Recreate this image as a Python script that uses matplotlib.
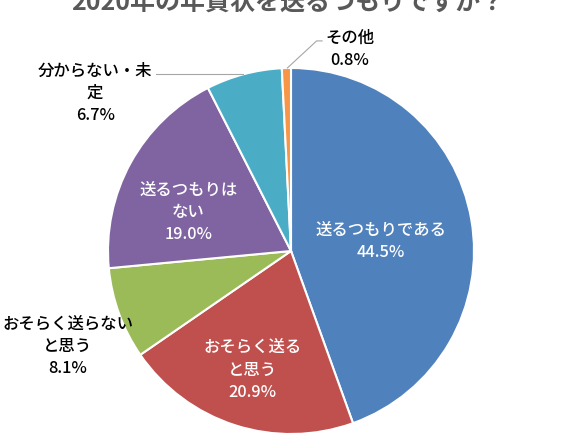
import matplotlib.pyplot as plt

plt.rcParams['font.family'] = ['Noto Sans CJK JP', 'DejaVu Sans']

categories = ['送るつもりである', 'おそらく送る\nと思う', 'おそらく送らない\nと思う',
              '送るつもりは\nない', '分からない・未\n定', 'その他']
shares = [44.5, 20.9, 8.1, 19.0, 6.7, 0.8]
colors = ['#4F81BD', '#C0504D', '#9BBB59', '#8064A2', '#4BACC6', '#F79646']

fig = plt.figure(figsize=(5.76, 4.46), dpi=100)
# pie centre ~ (291, 251) px, radius ~183 px
ax = fig.add_axes([108 / 576, (446 - 251 - 183) / 446, 366 / 576, 366 / 446])

wedges, _ = ax.pie(shares, colors=colors, startangle=90, counterclock=False,
                   wedgeprops=dict(edgecolor='white', linewidth=1.5))
ax.set_xlim(-1, 1)
ax.set_ylim(-1, 1)
ax.set_aspect('equal')

# label positions (data units, radius = 1)
label_pos = [(0.49, 0.05), (-0.21, -0.65), (-1.22, -0.52),
             (-0.56, 0.21), (-1.07, 0.86), (0.32, 1.10)]
inside = [True, True, False, True, False, False]

for name, val, (x, y), ins in zip(categories, shares, label_pos, inside):
    ax.text(x, y, f'{name}\n{val:.1f}%', ha='center', va='center',
            fontsize=11.8, fontweight='medium', color='white' if ins else 'black',
            linespacing=1.4, clip_on=False)

# leader lines
ax.plot([-0.74, -0.26], [0.967, 0.967], color='#A6A6A6', lw=0.8, clip_on=False)
ax.plot([0.17, 0.14, -0.02], [1.148, 1.148, 1.0], color='#A6A6A6', lw=0.8, clip_on=False)

fig.text(0.5, 1 - 4 / 446, '2020年の年賀状を送るつもりですか？', ha='center', va='center',
         fontsize=18, fontweight='bold', color='#595959')

fig.savefig('out.png', dpi=100)
